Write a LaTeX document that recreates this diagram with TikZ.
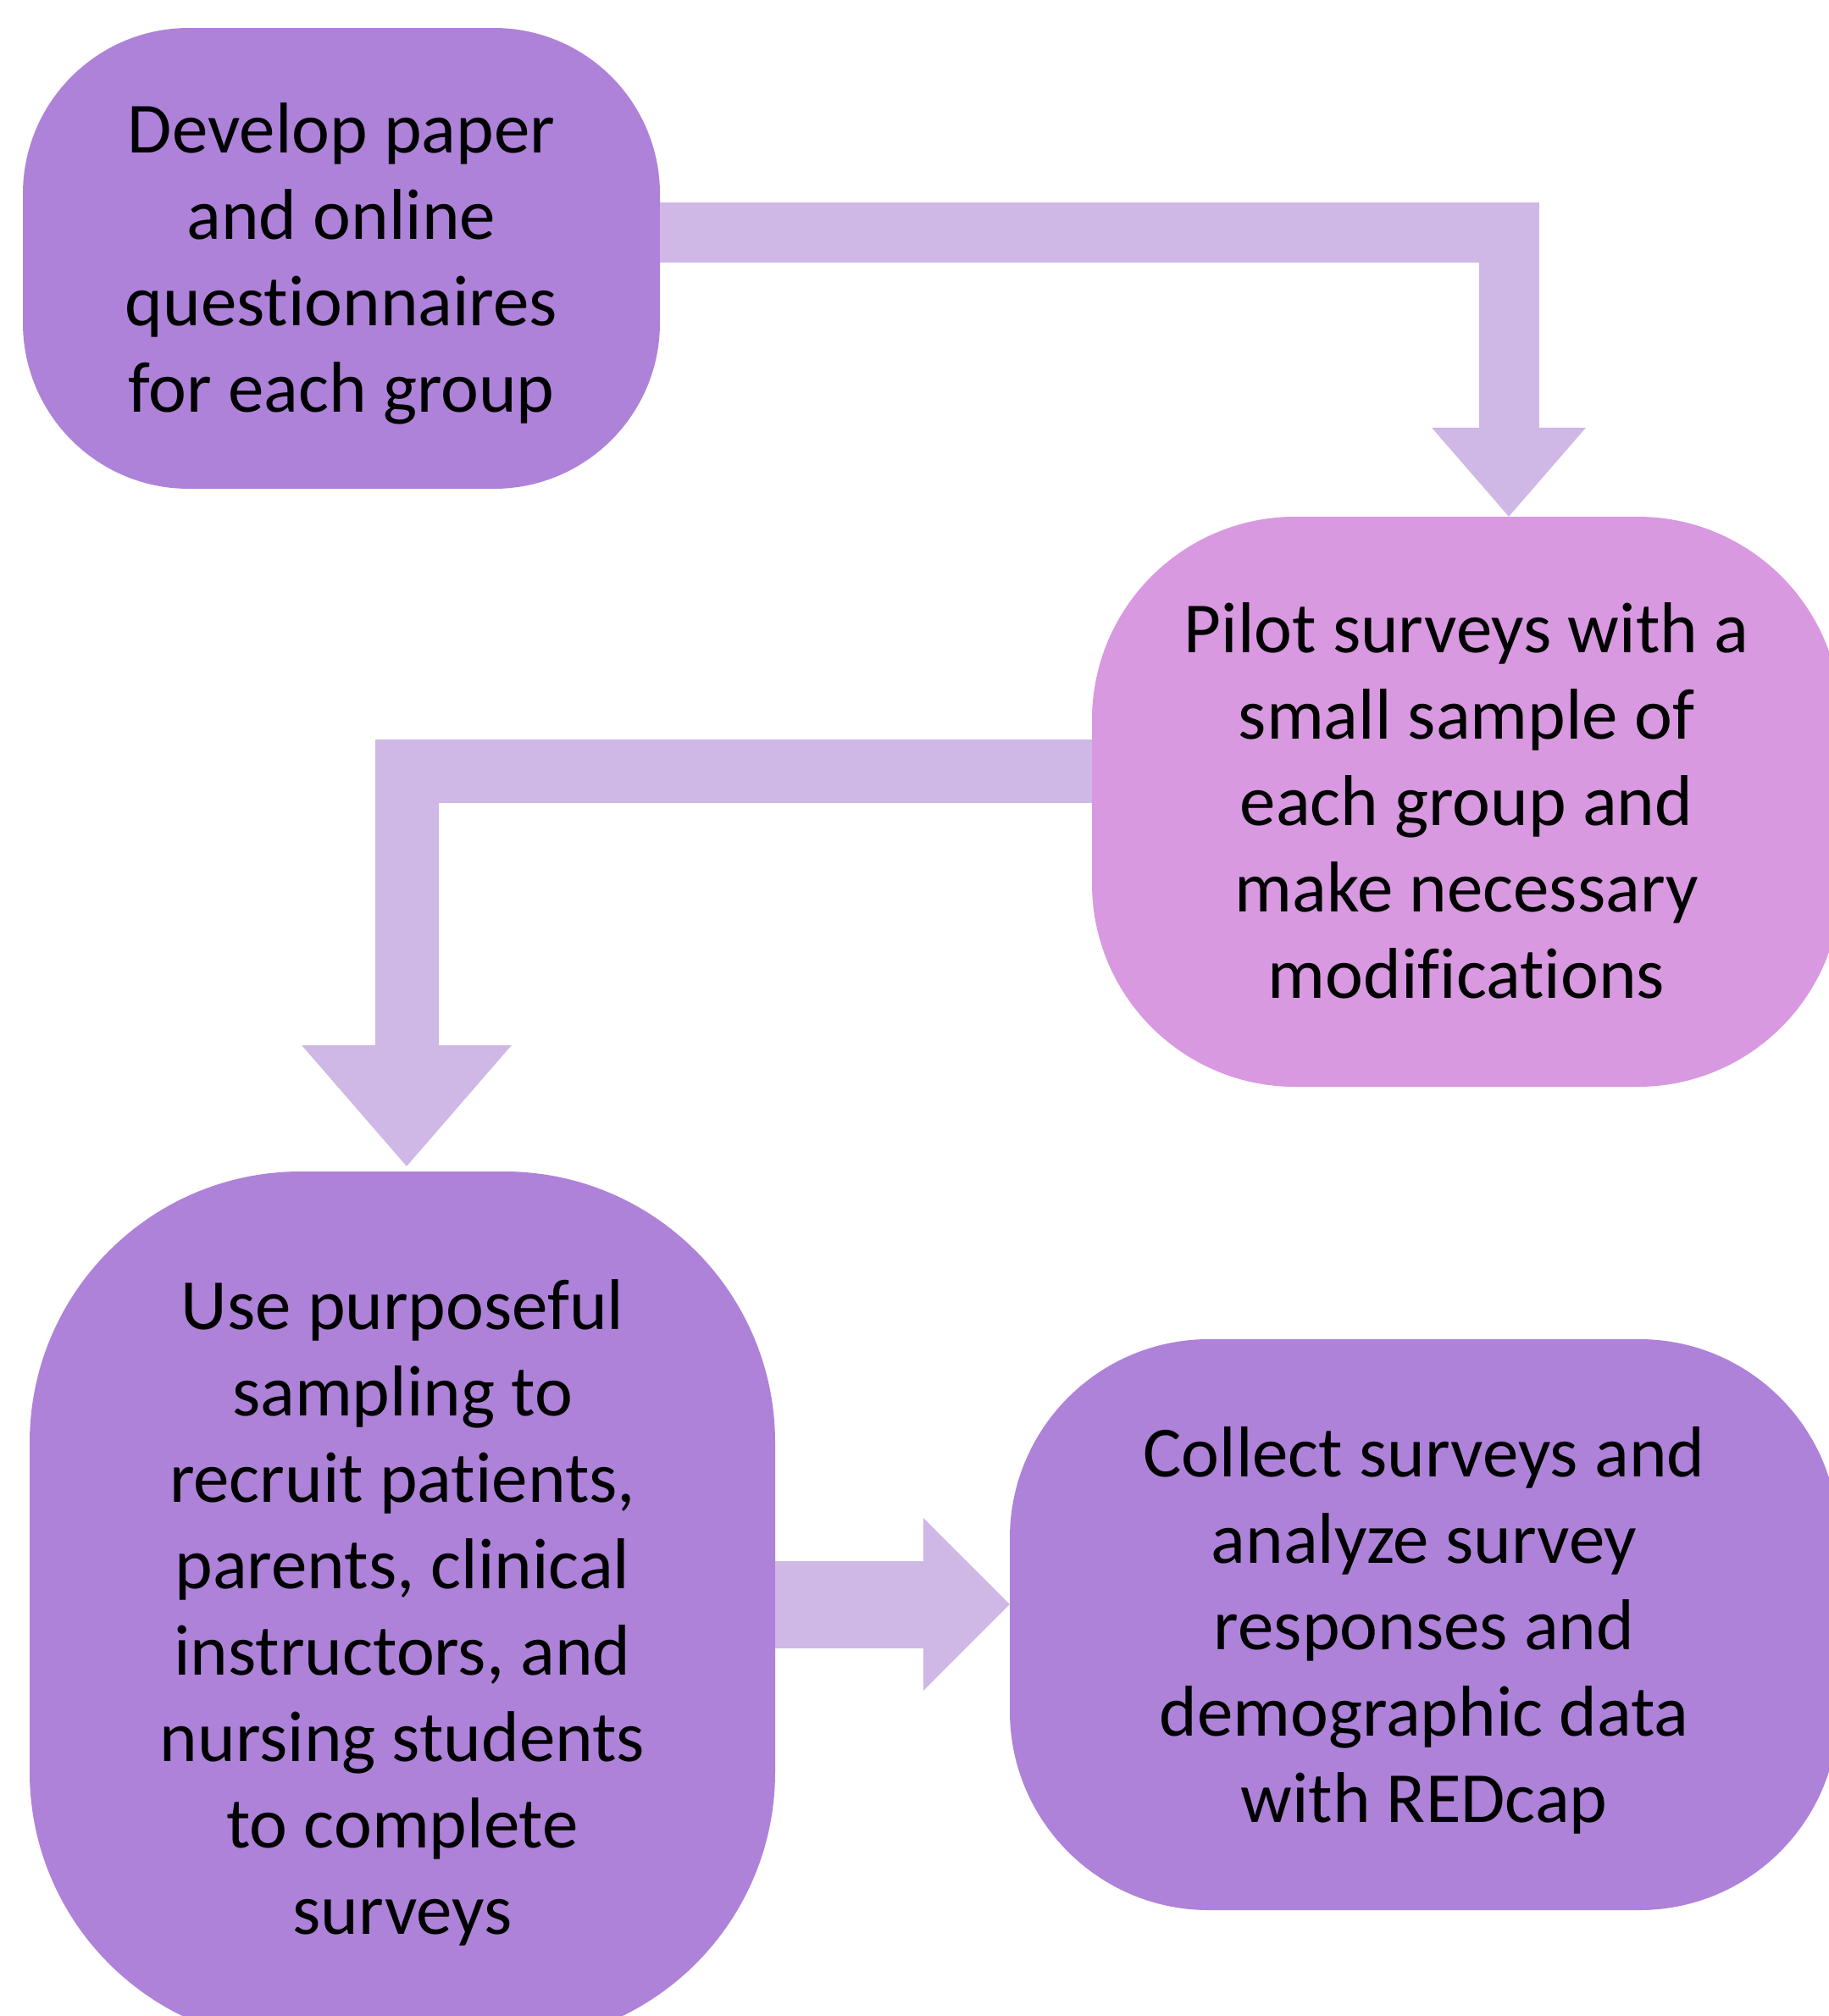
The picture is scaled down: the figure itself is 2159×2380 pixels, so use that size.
\documentclass[tikz,border=0pt]{standalone}
\usepackage{fontspec}
\setmainfont{Carlito}[Ligatures=NoCommon]
\usetikzlibrary{calc}
\definecolor{boxpurple}{HTML}{AE82D9}
\definecolor{boxpink}{HTML}{D899E0}
\definecolor{arrowc}{HTML}{CFB8E6}
\newcommand{\boxtext}[2]{\raisebox{-#1}[\height][\depth]{\begin{tabular}{@{}c@{}}#2\end{tabular}}}
\tikzset{
  stepbox/.style={rectangle, fill=boxpurple, inner sep=0pt, align=center,
    font=\fontsize{85}{102}\selectfont, text=black},
  fatbar/.style={draw=arrowc, line cap=butt, line join=miter},
  headfill/.style={fill=arrowc}
}
\begin{document}
\begin{tikzpicture}[x=1pt,y=-1pt]
\useasboundingbox (0,0) rectangle (2159,2380);
\clip (0,0) rectangle (2159,2380);
\fill[white] (0,0) rectangle (2159,2380);

\node[stepbox, minimum width=752pt, minimum height=544pt, rounded corners=196pt] (b1) at (403,305)
  {\boxtext{8.5pt}{Develop paper\\and online\\questionnaires\\for each group}};
\node[stepbox, fill=boxpink, minimum width=884pt, minimum height=673pt, rounded corners=240pt] (b2) at (1731,946.5)
  {\boxtext{7.5pt}{Pilot surveys with a\\small sample of\\each group and\\make necessary\\modifications}};
\node[stepbox, minimum width=880pt, minimum height=1029pt, rounded corners=320pt] (b3) at (475,1897.5)
  {\boxtext{8.5pt}{Use purposeful\\sampling to\\recruit patients,\\parents, clinical\\instructors, and\\nursing students\\to complete\\surveys}};
\node[stepbox, minimum width=978pt, minimum height=674pt, rounded corners=235pt] (b4) at (1681,1918)
  {\boxtext{9pt}{Collect surveys and\\analyze survey\\responses and\\demographic data\\with REDcap}};

% arrow 1: b1 -> b2
\coordinate (t1) at (b2.north -| 1781,0);
\draw[fatbar, line width=71pt] (b1.east |- 0,274) -| ($(t1)+(0,-100)$);
\fill[headfill] (t1) -- ++(-91,-105) -- ++(182,0) -- cycle;

% arrow 2: b2 -> b3
\coordinate (t2) at ($(b3.north -| 480,0)+(0,-6)$);
\draw[fatbar, line width=75pt] (b2.west |- 0,910.5) -| ($(t2)+(0,-138)$);
\fill[headfill] (t2) -- ++(-124,-143) -- ++(248,0) -- cycle;

% arrow 3: b3 -> b4
\coordinate (t3) at (b4.west |- 0,1894);
\draw[fatbar, line width=103pt] (b3.east |- 0,1894) -- ($(t3)+(-98,0)$);
\fill[headfill] (t3) -- ++(-102,-102) -- ++(0,204) -- cycle;
\end{tikzpicture}
\end{document}
